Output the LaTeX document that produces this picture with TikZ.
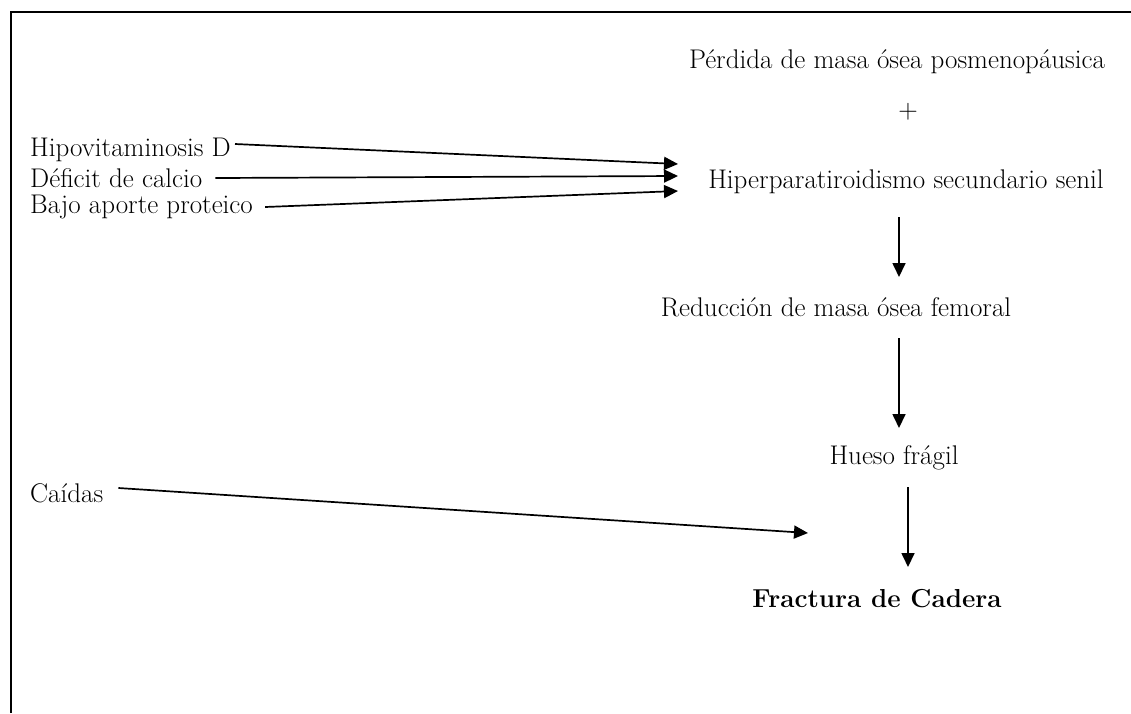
\documentclass[tikz,border=0pt]{standalone}
\usetikzlibrary{arrows.meta}
\begin{document}
\begin{tikzpicture}[x=1pt,y=-1pt,
  lbl/.style={inner sep=0pt,font=\fontsize{27}{32}\selectfont},
  conn/.style={line width=1.7pt,-{Triangle[length=14pt,width=13pt]}}]
\useasboundingbox (0,0) rectangle (1131,713);
\draw[line width=2pt] (11,713) -- (11,12) -- (1131,12);
\node[lbl] (perd) at (897,62) {Pérdida de masa ósea posmenopáusica};
\node[lbl] (plus) at (908,112) {+};
\node[lbl] (hiper) at (906,182) {Hiperparatiroidismo secundario senil};
\node[lbl] (redu) at (836,307) {Reducción de masa ósea femoral};
\node[lbl] (hues) at (894,458) {Hueso frágil};
\node[lbl,font=\fontsize{26}{32}\selectfont\bfseries] (frac) at (877,599) {Fractura de Cadera};
\node[lbl,anchor=west] (hipo) at (30,150) {Hipovitaminosis D};
\node[lbl,anchor=west] (defi) at (30,178) {Déficit de calcio};
\node[lbl,anchor=west] (bajo) at (30,207) {Bajo aporte proteico};
\node[lbl,anchor=west] (cai) at (30,493) {Caídas};
\coordinate (t1) at (678,164);
\coordinate (t2) at (678,176);
\coordinate (t3) at (678,191);
\coordinate (t4) at (808,533);
\coordinate (a1s) at (899,217);
\coordinate (a1e) at (899,277);
\coordinate (a2s) at (899,338);
\coordinate (a2e) at (899,428);
\coordinate (a3s) at (908,487);
\coordinate (a3e) at (908,567);
\draw[conn] (hipo.east) ++(4,-6) -- (t1);
\draw[conn] (defi.east) ++(13,0) -- (t2);
\draw[conn] (bajo.east) ++(12,0) -- (t3);
\draw[conn] (cai.east) ++(15,-5) -- (t4);
\draw[conn] (a1s) -- (a1e);
\draw[conn] (a2s) -- (a2e);
\draw[conn] (a3s) -- (a3e);
\end{tikzpicture}
\end{document}
